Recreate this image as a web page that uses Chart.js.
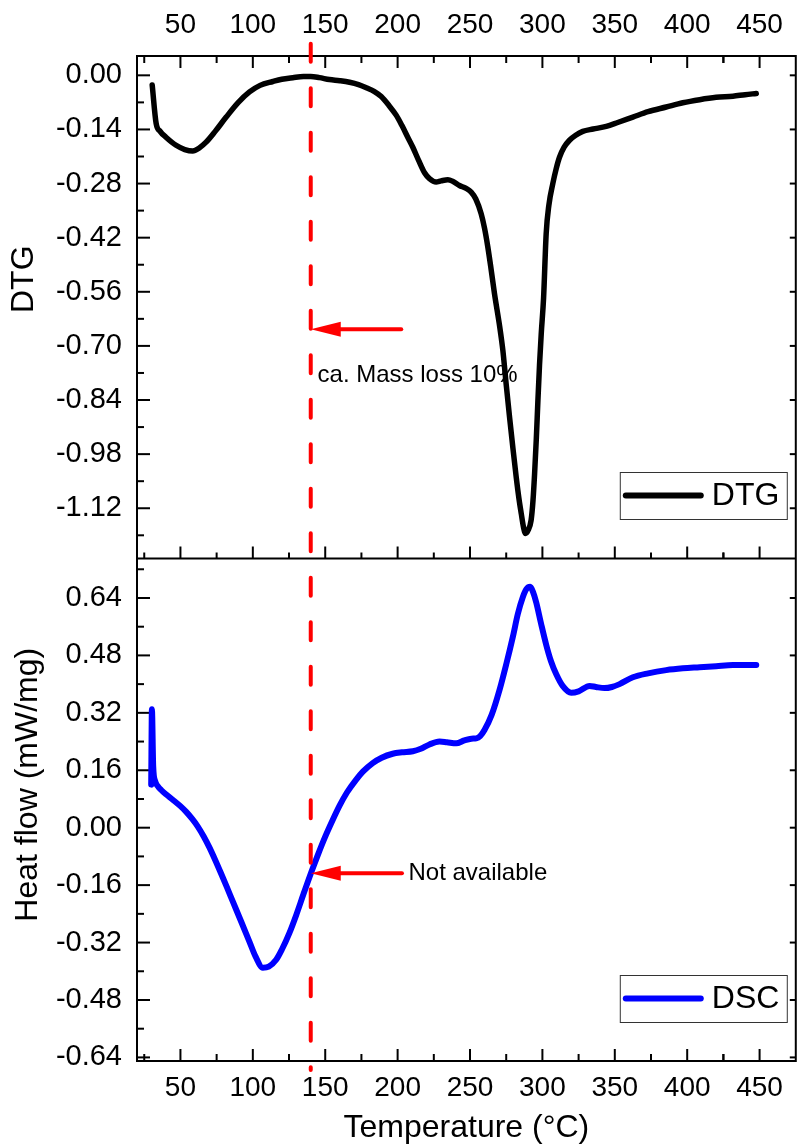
<!DOCTYPE html>
<html>
<head>
<meta charset="utf-8">
<title>DTG / DSC</title>
<script src="https://cdn.jsdelivr.net/npm/chart.js@4.4.1/dist/chart.umd.min.js"></script>
<style>
  html, body { margin: 0; padding: 0; background: #fff; }
  canvas { display: block; }
</style>
</head>
<body>
<canvas id="thermo" width="797" height="1144"></canvas>
<script>
// tick labels
const xTickValues = [50, 100, 150, 200, 250, 300, 350, 400, 450];
const dtgTickValues = [0, -0.14, -0.28, -0.42, -0.56, -0.70, -0.84, -0.98, -1.12];
const dscTickValues = [0.64, 0.48, 0.32, 0.16, 0, -0.16, -0.32, -0.48, -0.64];

// DTG curve
const dtgTemp = [30.5, 33.2, 36, 40, 47, 53, 58.5, 63, 67.7, 74, 81.6, 90, 97.7, 105, 113.8, 120,
  127.6, 135, 140, 146, 152.9, 160, 166.8, 173, 178.3, 184, 188.7, 194, 199, 203, 207, 210.5, 214.5,
  218.6, 222, 226.6, 230, 234.7, 238, 242.7, 247, 250.8, 254, 257.7, 260, 262.3, 264.5, 266.9,
  270.5, 272.7, 275, 277.3, 279.5, 281.9, 283.8, 285.4, 287, 288.3, 290, 292.2, 293.5, 294.6,
  295.8, 296.9, 298, 299.2, 300.8, 302.6, 304.5, 307.2, 309.5, 311.8, 315, 318.7, 323, 327.9,
  335, 344.1, 352, 362.5, 373, 385.5, 397, 408.6, 420, 431.6, 440, 447.7];
const dtgValue = [-0.025, -0.124, -0.145, -0.160, -0.181, -0.192, -0.196, -0.188, -0.173, -0.145,
  -0.108, -0.070, -0.043, -0.026, -0.016, -0.010, -0.006, -0.003, -0.003, -0.006, -0.011, -0.014,
  -0.018, -0.024, -0.032, -0.042, -0.055, -0.078, -0.103, -0.130, -0.160, -0.186, -0.220, -0.252,
  -0.267, -0.276, -0.273, -0.270, -0.274, -0.285, -0.292, -0.302, -0.320, -0.358, -0.395, -0.444,
  -0.500, -0.565, -0.650, -0.712, -0.800, -0.884, -0.960, -1.039, -1.095, -1.134, -1.170, -1.185,
  -1.178, -1.151, -1.100, -1.031, -0.940, -0.841, -0.750, -0.668, -0.577, -0.410, -0.335, -0.280,
  -0.242, -0.212, -0.186, -0.168, -0.155, -0.145, -0.139, -0.132, -0.122, -0.108, -0.094, -0.082,
  -0.071, -0.063, -0.057, -0.054, -0.050, -0.047];

// DSC curve
const dscTemp = [29.8, 30.3, 31.2, 32.5, 34.5, 36.7, 40, 44.7, 50, 54, 58, 62, 66, 70, 74, 78,
  82, 86, 92, 97.7, 102, 106.9, 111, 116.1, 120, 125.3, 130, 135, 140.3, 145, 150, 155, 160, 165,
  171, 176, 182.8, 189, 196.6, 203, 210.5, 216, 222, 228.9, 234, 240.5, 246,
  251, 254.3, 257, 260, 265, 270.4, 275, 279.6, 283, 286.5, 289, 291.6, 293.5, 295.7, 299, 302.6,
  306, 309.5, 314, 319.9, 325, 332.6, 337, 342.9, 348, 353.3, 362.5, 373, 385.5, 397, 408.6, 420,
  431.6, 440, 447.7];
const dscValue = [0.120, 0.330, 0.170, 0.130, 0.115, 0.105, 0.093, 0.078, 0.060, 0.044, 0.025,
  0.003, -0.024, -0.055, -0.090, -0.127, -0.165, -0.204, -0.262, -0.318, -0.360, -0.390, -0.387,
  -0.368, -0.340, -0.293, -0.243, -0.185, -0.125, -0.075, -0.025, 0.020, 0.062, 0.098,
  0.132, 0.156, 0.180, 0.195, 0.206, 0.210, 0.213, 0.220, 0.232, 0.240, 0.238, 0.235, 0.243, 0.248,
  0.249, 0.255, 0.272, 0.315, 0.384, 0.455, 0.532, 0.595, 0.643, 0.665, 0.671, 0.657, 0.628, 0.570,
  0.510, 0.463, 0.428, 0.395, 0.376, 0.380, 0.395, 0.392, 0.389, 0.392, 0.400, 0.419, 0.430, 0.439,
  0.444, 0.447, 0.450, 0.453, 0.453, 0.453];

// marker line and notes
const markerTemp = 140;
const massLossNote = { text: 'ca. Mass loss 10%', arrowFrom: 202.5, arrowY: -0.657, textX: 144.7, textY: -0.793 };
const dscNote = { text: 'Not available', arrowFrom: 203, arrowY: -0.127, textX: 207.5 };

const FONT = "'Liberation Sans', Arial, sans-serif";
Chart.defaults.color = '#000';
Chart.defaults.font.family = FONT;

function seg(ctx, x1, y1, x2, y2) {
  ctx.beginPath();
  ctx.moveTo(x1, y1);
  ctx.lineTo(x2, y2);
  ctx.stroke();
}

function arrow(ctx, x1, x2, y) {
  // shaft from x1 leftwards, filled head pointing at x2
  ctx.strokeStyle = '#ff0000';
  ctx.fillStyle = '#ff0000';
  ctx.lineWidth = 4;
  ctx.lineCap = 'round';
  seg(ctx, x1, y, x2 + 26, y);
  ctx.beginPath();
  ctx.moveTo(x2, y);
  ctx.lineTo(x2 + 30, y - 7.5);
  ctx.lineTo(x2 + 30, y + 7.5);
  ctx.closePath();
  ctx.fill();
}

function legendBox(ctx, ds, right, bottom) {
  const w = 167, h = 47;
  const left = right - w, top = bottom - h;
  ctx.fillStyle = '#fff';
  ctx.fillRect(left, top, w, h);
  ctx.strokeStyle = '#333';
  ctx.lineWidth = 1;
  ctx.strokeRect(left + 0.5, top + 0.5, w, h);
  const cy = top + h / 2;
  ctx.strokeStyle = ds.borderColor;
  ctx.lineWidth = 6;
  ctx.lineCap = 'round';
  seg(ctx, left + 6, cy, left + 81, cy);
  ctx.fillStyle = '#000';
  ctx.font = '32px ' + FONT;
  ctx.textAlign = 'left';
  ctx.textBaseline = 'middle';
  ctx.fillText(ds.label, left + 92, cy + 1);
}

function verticalTitle(ctx, text, x, y) {
  ctx.save();
  ctx.translate(x, y);
  ctx.rotate(-Math.PI / 2);
  ctx.font = '32px ' + FONT;
  ctx.fillStyle = '#000';
  ctx.textAlign = 'center';
  ctx.textBaseline = 'middle';
  ctx.fillText(text, 0, 0);
  ctx.restore();
}

// box frame, inward ticks and panel separator
const framePlugin = {
  id: 'frame',
  beforeDatasetsDraw(chart) {
    const { ctx, chartArea: a, scales } = chart;
    const x = scales.x, yT = scales.yDtg, yB = scales.yDsc;
    const split = yT.bottom;
    ctx.save();
    ctx.strokeStyle = '#000';
    ctx.lineWidth = 2;
    ctx.lineCap = 'butt';
    ctx.strokeRect(a.left, a.top, a.right - a.left, a.bottom - a.top);
    seg(ctx, a.left, split, a.right, split);

    xTickValues.forEach(v => {
      const px = x.getPixelForValue(v);
      seg(ctx, px, a.top, px, a.top + 12);
      seg(ctx, px, split, px, split - 12);
      seg(ctx, px, a.bottom, px, a.bottom - 12);
      const pm = x.getPixelForValue(v - 25);
      seg(ctx, pm, a.top, pm, a.top + 7);
      seg(ctx, pm, split, pm, split - 6);
      seg(ctx, pm, a.bottom, pm, a.bottom - 7);
    });
    const pLast = x.getPixelForValue(425);
    seg(ctx, pLast, a.top, pLast, a.top + 7);
    seg(ctx, pLast, split, pLast, split - 6);
    seg(ctx, pLast, a.bottom, pLast, a.bottom - 7);

    dtgTickValues.forEach(v => {
      const py = yT.getPixelForValue(v);
      seg(ctx, a.left, py, a.left + 13, py);
      seg(ctx, a.right, py, a.right - 6, py);
      const pm = yT.getPixelForValue(v - 0.07);
      seg(ctx, a.left, pm, a.left + 7, pm);
    });
    dscTickValues.forEach(v => {
      const py = yB.getPixelForValue(v);
      seg(ctx, a.left, py, a.left + 13, py);
      seg(ctx, a.right, py, a.right - 6, py);
      const pm = yB.getPixelForValue(v + 0.08);
      seg(ctx, a.left, pm, a.left + 7, pm);
    });
    ctx.restore();
  },
  afterDatasetsDraw(chart) {
    const { ctx, chartArea: a, scales } = chart;
    const x = scales.x, yT = scales.yDtg, yB = scales.yDsc;
    const ds = chart.data.datasets;
    ctx.save();
    legendBox(ctx, ds[0], a.right - 9, yT.bottom - 39.5);
    legendBox(ctx, ds[1], a.right - 9, a.bottom - 39);

    verticalTitle(ctx, 'DTG', 24, (yT.top + yT.bottom) / 2 - 28);
    verticalTitle(ctx, 'Heat flow (mW/mg)', 28, (yB.top + yB.bottom) / 2 - 25);

    // dashed marker through both panels
    const mx = x.getPixelForValue(markerTemp);
    ctx.strokeStyle = '#ff0000';
    ctx.lineWidth = 4;
    ctx.lineCap = 'round';
    ctx.setLineDash([18, 26.5]);
    seg(ctx, mx, a.top - 12.3, mx, a.bottom + 9);
    ctx.setLineDash([]);

    arrow(ctx, x.getPixelForValue(massLossNote.arrowFrom), mx, yT.getPixelForValue(massLossNote.arrowY));
    arrow(ctx, x.getPixelForValue(dscNote.arrowFrom), mx, yB.getPixelForValue(dscNote.arrowY));

    ctx.fillStyle = '#000';
    ctx.font = '24px ' + FONT;
    ctx.textAlign = 'left';
    ctx.textBaseline = 'alphabetic';
    ctx.fillText(massLossNote.text, x.getPixelForValue(massLossNote.textX), yT.getPixelForValue(massLossNote.textY));
    ctx.textBaseline = 'middle';
    ctx.fillText(dscNote.text, x.getPixelForValue(dscNote.textX), yB.getPixelForValue(dscNote.arrowY));
    ctx.restore();
  }
};

const toPoints = (xs, ys) => xs.map((t, i) => ({ x: t, y: ys[i] }));

const hidden = { display: false, drawTicks: false, drawOnChartArea: false };

function xAxis(position, pad, height) {
  return {
    type: 'linear',
    position: position,
    min: 20,
    max: 475,
    bounds: 'data',
    grid: hidden,
    border: { display: false },
    ticks: { font: { size: 28, family: FONT }, padding: pad, autoSkip: false, maxRotation: 0 },
    afterBuildTicks: s => { s.ticks = xTickValues.map(v => ({ value: v })); },
    afterFit: s => { s.height = height; }
  };
}

function yAxis(min, max, values, weight) {
  return {
    type: 'linear',
    position: 'left',
    stack: 'panels',
    stackWeight: 1,
    weight: weight,
    min: min,
    max: max,
    bounds: 'data',
    grid: hidden,
    border: { display: false },
    ticks: { font: { size: 29, family: FONT }, padding: 15, autoSkip: false, callback: v => v.toFixed(2) },
    afterBuildTicks: s => { s.ticks = values.map(v => ({ value: v })); },
    afterFit: s => { s.width = 137; }
  };
}

const xBottom = xAxis('bottom', 10, 83);
xBottom.title = {
  display: true,
  text: 'Temperature (°C)',
  font: { size: 32, family: FONT, lineHeight: 1 },
  padding: { top: 0, bottom: 0 }
};

new Chart(document.getElementById('thermo'), {
  type: 'line',
  data: {
    datasets: [
      {
        label: 'DTG',
        data: toPoints(dtgTemp, dtgValue),
        xAxisID: 'x',
        yAxisID: 'yDtg',
        borderColor: '#000000',
        borderWidth: 5.5,
        pointRadius: 0,
        cubicInterpolationMode: 'monotone',
        borderJoinStyle: 'round',
        borderCapStyle: 'round'
      },
      {
        label: 'DSC',
        data: toPoints(dscTemp, dscValue),
        xAxisID: 'x',
        yAxisID: 'yDsc',
        borderColor: '#0000ff',
        borderWidth: 6,
        pointRadius: 0,
        cubicInterpolationMode: 'monotone',
        borderJoinStyle: 'round',
        borderCapStyle: 'round'
      }
    ]
  },
  options: {
    responsive: false,
    animation: false,
    devicePixelRatio: 1,
    layout: { padding: { left: 0, right: 1, top: 0, bottom: 0 } },
    plugins: { legend: { display: false }, tooltip: { enabled: false } },
    scales: {
      x: xBottom,
      xTop: xAxis('top', 14, 56),
      yDtg: yAxis(-1.25, 0.05, dtgTickValues, 1),
      yDsc: yAxis(-0.65, 0.75, dscTickValues, 0)
    }
  },
  plugins: [framePlugin]
});
</script>
</body>
</html>
